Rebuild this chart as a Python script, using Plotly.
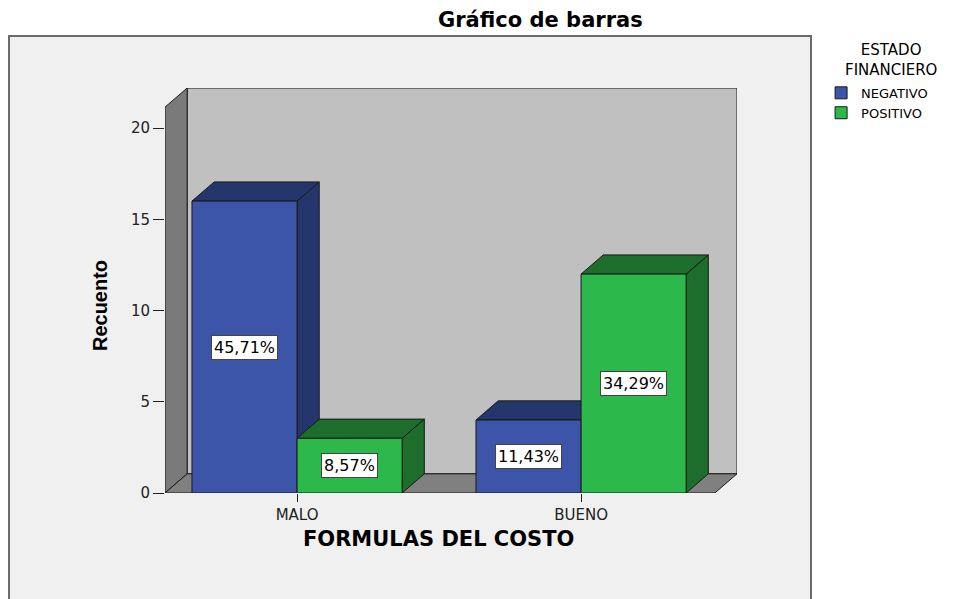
import plotly.graph_objects as go

# ---------------- data ----------------
categories = ["MALO", "BUENO"]
series_names = ["NEGATIVO", "POSITIVO"]
negativo = [16, 4]
positivo = [3, 12]
y_ticks = [0, 5, 10, 15, 20]

title_text = "Gráfico de barras"
x_title = "FORMULAS DEL COSTO"
y_title = "Recuento"
legend_title = "ESTADO<br>FINANCIERO"

# ---------------- styling ----------------
FRONT = {"NEGATIVO": "#3d55a8", "POSITIVO": "#2db84b"}
DARK = {"NEGATIVO": "#24366c", "POSITIVO": "#1d6d2d"}
EDGE = "#1a1a1a"
FONT = "DejaVu Sans, Liberation Sans, Arial"
FONT_B = "Liberation Sans, Arial"

W = 0.37               # bar width (category units)
DX, DY = 0.078, 1.05   # 3D depth offset
X_RANGE = [-0.465, 1.549]
Y_RANGE = [0, 22.2]

pos = list(range(len(categories)))
values = {"NEGATIVO": negativo, "POSITIVO": positivo}
offsets = {"NEGATIVO": -W, "POSITIVO": 0.0}
total = sum(negativo) + sum(positivo)

fig = go.Figure()

shapes = []
xmin, xmax = X_RANGE
ymax = Y_RANGE[1]

# outer chart frame
shapes.append(dict(type="rect", xref="paper", yref="paper",
                   x0=-0.2727, x1=1.1294, y0=-0.32, y1=1.1284,
                   fillcolor="#f0f0f0", line=dict(color="#6a6a6a", width=2),
                   layer="below"))
# back wall
shapes.append(dict(type="rect", xref="x", yref="y", x0=xmin + DX, x1=xmax,
                   y0=DY, y1=ymax, fillcolor="#c0c0c0",
                   line=dict(color=EDGE, width=1), layer="below"))
# left wall
shapes.append(dict(type="path", xref="x", yref="y",
                   path=f"M {xmin},0 L {xmin},{ymax-DY} L {xmin+DX},{ymax} L {xmin+DX},{DY} Z",
                   fillcolor="#7a7a7a", line=dict(color=EDGE, width=1), layer="below"))
# floor
shapes.append(dict(type="path", xref="x", yref="y",
                   path=f"M {xmin},0 L {xmin+DX},{DY} L {xmax},{DY} L {xmax-DX},0 Z",
                   fillcolor="#808080", line=dict(color=EDGE, width=1), layer="below"))

# 3D side and top faces of each bar
for i, p in enumerate(pos):
    for s in series_names:
        h = values[s][i]
        x0 = p + offsets[s]
        x1 = x0 + W
        shapes.append(dict(type="path", xref="x", yref="y",
                           path=f"M {x1},0 L {x1+DX},{DY} L {x1+DX},{h+DY} L {x1},{h} Z",
                           fillcolor=DARK[s], line=dict(color=EDGE, width=1), layer="below"))
        shapes.append(dict(type="path", xref="x", yref="y",
                           path=f"M {x0},{h} L {x0+DX},{h+DY} L {x1+DX},{h+DY} L {x1},{h} Z",
                           fillcolor=DARK[s], line=dict(color=EDGE, width=1), layer="below"))

# front faces
for s in series_names:
    fig.add_trace(go.Bar(
        x=pos, y=values[s], name=s, width=W, offset=offsets[s],
        marker=dict(color=FRONT[s], line=dict(color=EDGE, width=1)),
        hoverinfo="skip"))

annotations = []
# percentage labels
for i, p in enumerate(pos):
    for s in series_names:
        h = values[s][i]
        pct = f"{100*h/total:.2f}%".replace(".", ",")
        annotations.append(dict(x=p + offsets[s] + W / 2, y=h / 2, xref="x", yref="y",
                                text=pct, showarrow=False,
                                xanchor="center", yanchor="middle",
                                font=dict(family=FONT, size=16, color="#000"),
                                bgcolor="white", bordercolor="#444", borderwidth=1,
                                borderpad=2))

annotations += [
    dict(x=0.6556, y=1.168, xref="paper", yref="paper", text=f"<b>{title_text}</b>",
         xanchor="center", yanchor="middle",
         showarrow=False, font=dict(family=FONT, size=21, color="#000")),
    dict(x=0.4773, y=-0.1136, xref="paper", yref="paper", text=f"<b>{x_title}</b>",
         xanchor="center", yanchor="middle",
         showarrow=False, font=dict(family=FONT, size=21, color="#000")),
    dict(x=-0.1136, y=0.4617, xref="paper", yref="paper", text=f"<b>{y_title}</b>",
         textangle=-90, showarrow=False, xanchor="center", yanchor="middle",
         font=dict(family=FONT_B, size=20, color="#000")),
    dict(x=1.2692, y=1.0691, xref="paper", yref="paper", text=legend_title,
         showarrow=False, xanchor="center", yanchor="middle", align="center",
         font=dict(family=FONT, size=15, color="#000")),
]

fig.update_layout(
    width=951, height=591,
    margin=dict(l=157, r=222, t=80, b=106),
    paper_bgcolor="white", plot_bgcolor="#f0f0f0",
    barmode="overlay",
    showlegend=True,
    legend=dict(x=1.147, y=1.025, xanchor="left", yanchor="top",
                font=dict(family=FONT, size=13, color="#000"),
                bgcolor="rgba(0,0,0,0)", itemwidth=30, tracegroupgap=0),
    shapes=shapes, annotations=annotations,
    xaxis=dict(range=X_RANGE, tickvals=pos, ticktext=categories,
               ticks="outside", ticklen=8, tickcolor="#222", showgrid=False,
               zeroline=False, showline=False,
               tickfont=dict(family=FONT, size=15, color="#222")),
    yaxis=dict(range=Y_RANGE, tickvals=y_ticks, ticks="outside", ticklen=11,
               tickcolor="#222", showgrid=False, zeroline=False, showline=False,
               tickfont=dict(family=FONT, size=15, color="#222")),
)

fig.write_html("out.html")
